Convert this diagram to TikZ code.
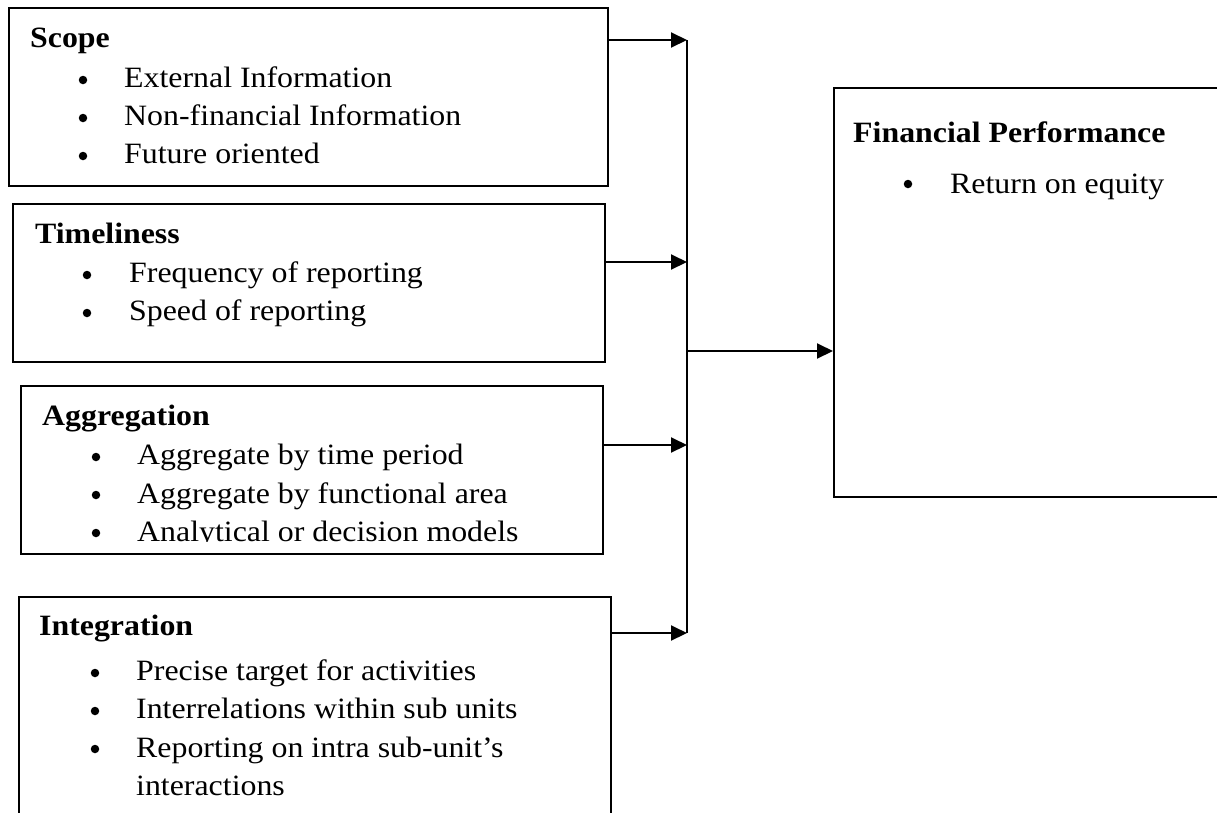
\documentclass[tikz,border=0pt]{standalone}
\usepackage{fontspec}
\setmainfont{Liberation Serif}[FakeStretch=1.08]
\usetikzlibrary{arrows.meta}
\tikzset{
  box/.style={draw=black, line width=2pt, rectangle, inner sep=0pt, anchor=north west},
  txt/.style={inner sep=0pt, anchor=base west, font=\fontsize{29.5pt}{38pt}\selectfont},
  head/.style={txt, font=\fontsize{29.5pt}{38pt}\selectfont\bfseries},
  bul/.style={circle, fill=black, inner sep=0pt, minimum size=8.5pt},
  conn/.style={line width=2pt},
  arr/.style={line width=2pt, -{Triangle[length=16pt,width=15pt]}}
}
\begin{document}
\begin{tikzpicture}[x=1pt, y=-1pt]
\clip (0,0) rectangle (1217,812);
\fill[white] (0,0) rectangle (1217,812);

% boxes
\node[box, minimum width=599pt, minimum height=178pt] (scope) at (8,7) {};
\node[box, minimum width=592pt, minimum height=158pt] (time) at (12,203) {};
\node[box, minimum width=582pt, minimum height=168pt] (aggr) at (20,385) {};
\node[box, minimum width=592pt, minimum height=250pt] (integ) at (18,596) {};
\node[box, minimum width=420pt, minimum height=409pt] (fin) at (833,87) {};

% Scope
\node[head] (scopeh) at (30,47) {Scope};
\node[bul] (sb1) at (83,80) {};
\node[bul] (sb2) at (83,118) {};
\node[bul] (sb3) at (83,156) {};
\node[txt] (st1) at (124,87) {External Information};
\node[txt] (st2) at (124,125) {Non-financial Information};
\node[txt] (st3) at (124,163) {Future oriented};

% Timeliness
\node[head] (timeh) at (35,243) {Timeliness};
\node[bul] (tb1) at (87,275) {};
\node[bul] (tb2) at (87,313) {};
\node[txt] (tt1) at (129,282) {Frequency of reporting};
\node[txt] (tt2) at (129,320) {Speed of reporting};

% Aggregation
\node[head] (aggrh) at (42,425) {Aggregation};
\node[bul] (ab1) at (96,457) {};
\node[bul] (ab2) at (96,495) {};
\node[bul] (ab3) at (96,533) {};
\node[txt] (at1) at (137,464) {Aggregate by time period};
\node[txt] (at2) at (137,503) {Aggregate by functional area};
\begin{scope}
\clip (20,520) rectangle (602,541.5);
\node[txt] (at3) at (137,541) {Analytical or decision models};
\end{scope}

% Integration
\node[head] (integh) at (39,635) {Integration};
\node[bul] (ib1) at (95,673) {};
\node[bul] (ib2) at (95,711) {};
\node[bul] (ib3) at (95,749) {};
\node[txt] (it1) at (136,680) {Precise target for activities};
\node[txt] (it2) at (136,718) {Interrelations within sub units};
\node[txt] (it3) at (136,757) {Reporting on intra sub-unit’s};
\node[txt] (it4) at (136,795) {interactions};

% Financial Performance
\node[head] (finh) at (853,142) {Financial Performance};
\node[bul] (fb1) at (908,184) {};
\node[txt] (ft1) at (950,193) {Return on equity};

% junction points on the collecting line
\coordinate (j1) at (687,40);
\coordinate (j2) at (687,262);
\coordinate (j3) at (687,445);
\coordinate (j4) at (687,633);
\coordinate (jm) at (687,351);

\draw[conn] (j1) -- (j4);
\draw[arr] (j1 -| scope.east) -- (j1);
\draw[arr] (j2 -| time.east) -- (j2);
\draw[arr] (j3 -| aggr.east) -- (j3);
\draw[arr] (j4 -| integ.east) -- (j4);
\draw[arr] (jm) -- (jm -| fin.west);
\end{tikzpicture}
\end{document}
